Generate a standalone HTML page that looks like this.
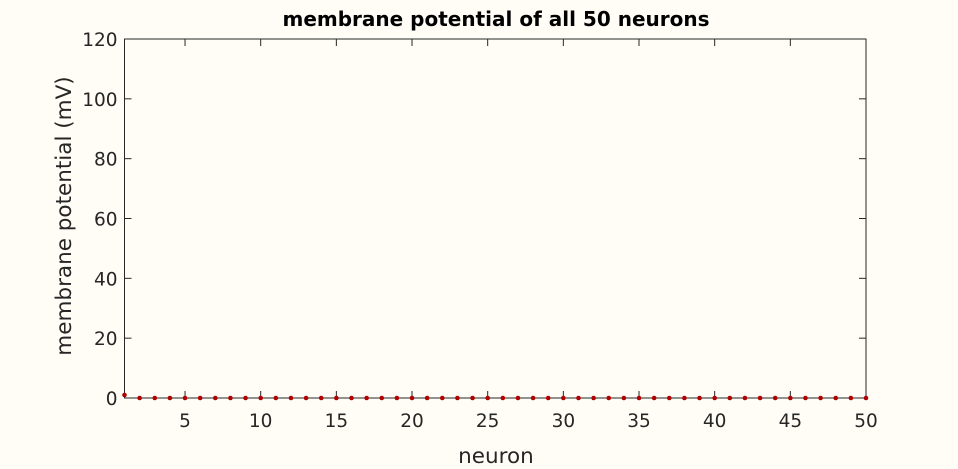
<!DOCTYPE html>
<html><head><meta charset="utf-8"><style>
body{margin:0;background:#fffdf6;}
svg{display:block;font-family:"DejaVu Sans","Liberation Sans",sans-serif;}
</style></head><body>
<svg id="c" width="958" height="469">
<rect x="0" y="0" width="958" height="469" fill="#fffdf6"/>
<text x="496" y="26" text-anchor="middle" font-size="20" font-weight="bold" fill="#000">membrane potential of all 50 neurons</text>
<text x="496" y="463" text-anchor="middle" font-size="21.5" fill="#262626">neuron</text>
<text transform="translate(71,216) rotate(-90)" text-anchor="middle" font-size="21.5" fill="#262626">membrane potential (mV)</text>
<g id="axes"></g>
<g id="marks"></g>
</svg>
<script>
const neurons = Array.from({length:50},(_,i)=>i+1);
const potentials = [1,0,0,0,0,0,0,0,0,0,0,0,0,0,0,0,0,0,0,0,0,0,0,0,0,0,0,0,0,0,0,0,0,0,0,0,0,0,0,0,0,0,0,0,0,0,0,0,0,0];
const xTicks = [5,10,15,20,25,30,35,40,45,50];
const yTicks = [0,20,40,60,80,100,120];
const L=124.5,R=866,T=39,B=398;
const xS=v=>L+(v-1)/(50-1)*(R-L);
const yS=v=>B-v/120*(B-T);
const ns="http://www.w3.org/2000/svg";
const ax=document.getElementById('axes'), mk=document.getElementById('marks');
function mkEl(t,a,p){const e=document.createElementNS(ns,t);for(const k in a)e.setAttribute(k,a[k]);p.appendChild(e);return e;}
const box=mkEl('rect',{x:L,y:T,width:R-L,height:B-T,fill:'none',stroke:'#262626','stroke-width':1},ax);


xTicks.forEach(v=>{const x=xS(v);
 const t1=mkEl('line',{x1:x,x2:x,y1:B,y2:B-7,stroke:'#262626'},ax);
 
 
 mkEl('line',{x1:x,x2:x,y1:T,y2:T+7,stroke:'#262626'},ax);
 const tx=mkEl('text',{x:x,y:B+29,'text-anchor':'middle','font-size':18.5,fill:'#262626'},ax);tx.textContent=v;
 
 
});
yTicks.forEach(v=>{const y=yS(v);
 const t1=mkEl('line',{x1:L,x2:L+7,y1:y,y2:y,stroke:'#262626'},ax);
 
 
 mkEl('line',{x1:R,x2:R-7,y1:y,y2:y,stroke:'#262626'},ax);
 const tx=mkEl('text',{x:L-7,y:y+7,'text-anchor':'end','font-size':18.5,fill:'#262626'},ax);tx.textContent=v;
 
 
});
neurons.forEach((n,i)=>{
 const c=mkEl('circle',{cx:xS(n),cy:yS(potentials[i]),r:2.3,fill:'#b00000'},mk);
 
 
});
</script>
</body></html>
